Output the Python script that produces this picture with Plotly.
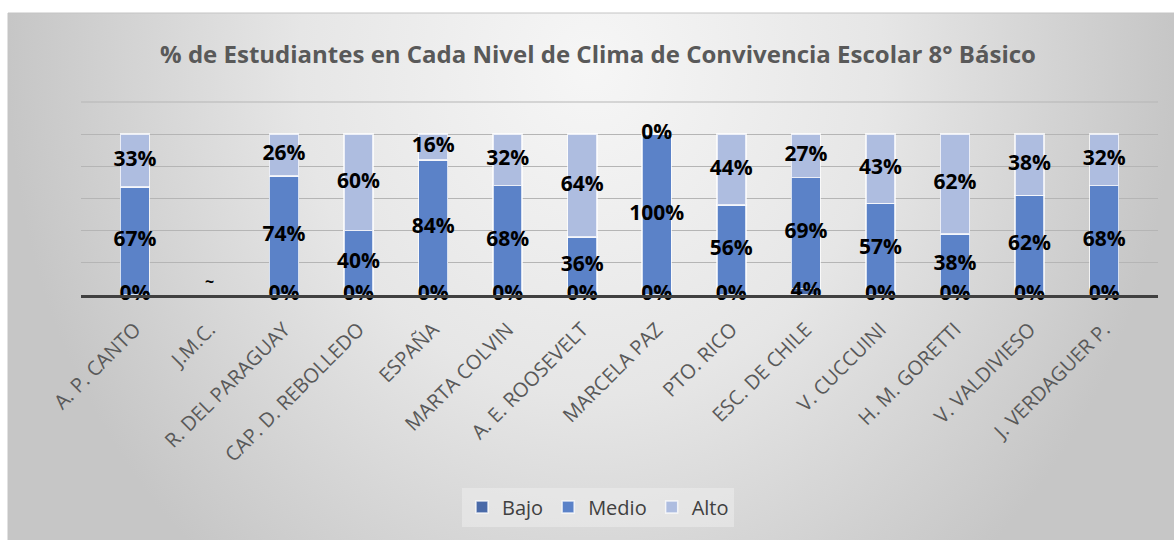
import base64
import plotly.graph_objects as go

categories = ["A. P. CANTO", "J.M.C.", "R. DEL PARAGUAY", "CAP. D. REBOLLEDO", "ESPAÑA",
              "MARTA COLVIN", "A. E. ROOSEVELT", "MARCELA PAZ", "PTO. RICO", "ESC. DE CHILE",
              "V. CUCCUINI", "H. M. GORETTI", "V. VALDIVIESO", "J. VERDAGUER P."]
bajo = [0, None, 0, 0, 0, 0, 0, 0, 0, 4, 0, 0, 0, 0]
medio = [67, None, 74, 40, 84, 68, 36, 100, 56, 69, 57, 38, 62, 68]
alto = [33, None, 26, 60, 16, 32, 64, 0, 44, 27, 43, 62, 38, 32]
missing_label = "~"

title = "% de Estudiantes en Cada Nivel de Clima de Convivencia Escolar 8° Básico"
series_names = ["Bajo", "Medio", "Alto"]
colors = ["#4a6aa8", "#5b82c8", "#aebde0"]
y_max = 1.2
y_step = 0.2

W, H = 1174, 540
L, R, T, B = 81, 16, 102, 245
pw, ph = W - L - R, H - T - B

def px_x(p):
    return (p - L) / pw

def px_y(p):
    return (H - B - p) / ph

svg = '''<svg xmlns="http://www.w3.org/2000/svg" width="1166" height="527">
<defs><radialGradient id="g" cx="0.5" cy="0.1" r="0.5" gradientTransform="translate(0.5 0.1) scale(1 2.5) translate(-0.5 -0.1)">
<stop offset="0" stop-color="#f6f6f6"/><stop offset="0.5" stop-color="#e6e6e6"/><stop offset="1" stop-color="#c6c6c6"/></radialGradient></defs>
<rect width="1166" height="527" fill="url(#g)"/></svg>'''
src = "data:image/svg+xml;base64," + base64.b64encode(svg.encode()).decode()

fig = go.Figure()
all_series = [bajo, medio, alto]
for name, vals, col in zip(series_names, all_series, colors):
    fig.add_trace(go.Bar(
        x=categories, y=[(v / 100 if v is not None else None) for v in vals], name=name,
        marker=dict(color=col, line=dict(color="rgba(255,255,255,0.75)", width=1.5)),
        width=0.39, hoverinfo="skip"))

# data labels centred in each segment
base = [0.0] * len(categories)
for vals in all_series:
    xs, ys, ts = [], [], []
    for i, v in enumerate(vals):
        if v is None:
            continue
        xs.append(categories[i])
        ys.append(base[i] + v / 200)
        ts.append(f"{v}%")
        base[i] += v / 100
    fig.add_trace(go.Scatter(x=xs, y=ys, text=ts, mode="text", showlegend=False,
                             textfont=dict(family="Open Sans", size=21, color="black", weight="bold"),
                             cliponaxis=False, hoverinfo="skip"))

for i, v in enumerate(medio):
    if v is None:
        fig.add_annotation(x=categories[i], y=0.09, text=missing_label, showarrow=False,
                           font=dict(family="Open Sans", size=16, color="black", weight="bold"))

fig.update_layout(
    width=W, height=H,
    margin=dict(l=L, r=R, t=T, b=B),
    paper_bgcolor="white", plot_bgcolor="rgba(0,0,0,0)",
    barmode="stack", bargap=0.61,
    title=dict(text=f"<b>{title}</b>", x=598 / W, xanchor="center", y=1 - 55 / H, yanchor="middle",
               font=dict(family="Open Sans", size=24, color="#595959")),
    legend=dict(orientation="h", x=px_x(598), xanchor="center", y=px_y(507), yanchor="middle",
                bgcolor="rgba(240,240,240,0.5)", font=dict(family="Open Sans", size=20, color="#404040"),
                traceorder="normal", itemwidth=30),
    xaxis=dict(tickangle=-45, tickfont=dict(family="Open Sans", size=20, color="#595959"),
               showline=True, linecolor="#404040", linewidth=3, showgrid=False, ticks="",
               ticklabelstandoff=12, fixedrange=True),
    yaxis=dict(range=[0, y_max], dtick=y_step, showticklabels=False, showgrid=True,
               gridcolor="#b5b5b5", gridwidth=1, zeroline=False, fixedrange=True),
    images=[dict(source=src, xref="paper", yref="paper", x=px_x(8), y=px_y(13),
                 sizex=(W - 8) / pw, sizey=(H - 13) / ph, xanchor="left", yanchor="top",
                 sizing="stretch", layer="below")],
    shapes=[dict(type="rect", xref="paper", yref="paper", x0=px_x(8), y0=px_y(H + 2),
                 x1=px_x(W + 2), y1=px_y(13), line=dict(color="#c4c4c4", width=1),
                 fillcolor="rgba(0,0,0,0)", layer="below"),
            dict(type="line", xref="paper", yref="paper", x0=0, x1=1, y0=1, y1=1,
                 line=dict(color="#b5b5b5", width=1.2), layer="above")],
)

fig.write_html("out.html", config={"displayModeBar": False},
               post_script="document.body.style.margin='0';document.body.style.overflow='hidden';")
